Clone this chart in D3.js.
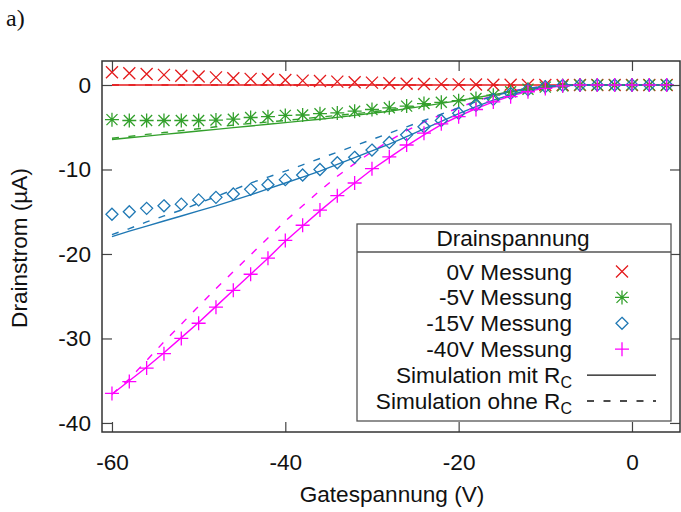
<!DOCTYPE html>
<html><head><meta charset="utf-8">
<script src="https://cdn.jsdelivr.net/npm/d3@7"></script>
<style>
body{margin:0;background:#fff}
svg{display:block}
text{font-family:"Liberation Sans",Arial,Helvetica,sans-serif;fill:#111}
</style>
</head><body><svg id="c" width="681" height="512"></svg>
<script>
// ---- data ----
const gate = [-60,-58,-56,-54,-52,-50,-48,-46,-44,-42,-40,-38,-36,-34,-32,-30,-28,-26,-24,-22,-20,-18,-16,-14,-12,-10,-8,-6,-4,-2,0,2,4];

const meas0V   = [1.5,1.4,1.3,1.2,1.1,1.0,0.9,0.8,0.72,0.67,0.6,0.52,0.47,0.4,0.32,0.28,0.2,0.15,0.12,0.1,0.07,0.05,0.03,0.02,0,0,0,0,0,0,0,0,0];
const meas5V   = [-4.1,-4.2,-4.2,-4.2,-4.2,-4.2,-4.15,-4.05,-3.85,-3.75,-3.6,-3.55,-3.4,-3.3,-3.1,-2.9,-2.7,-2.5,-2.2,-2.05,-1.85,-1.6,-1.2,-0.8,-0.5,-0.25,-0.1,0,0,0,0,0,0];
const meas15V  = [-15.3,-15.0,-14.6,-14.3,-14.1,-13.6,-13.3,-12.9,-12.35,-11.8,-11.2,-10.65,-10.0,-9.2,-8.56,-7.7,-6.8,-5.9,-4.95,-4.2,-3.35,-2.4,-1.7,-1.0,-0.55,-0.2,-0.05,0,0,0,0,0,0];
const meas40V  = [-36.5,-35.1,-33.5,-31.8,-30.0,-28.2,-26.3,-24.3,-22.4,-20.5,-18.4,-16.6,-14.8,-13.1,-11.6,-9.9,-8.5,-7.1,-5.7,-4.6,-3.75,-2.9,-2.0,-1.38,-0.8,-0.4,-0.1,0,0,0,0,0,0];

const simMit0V   = [0,0,0,0,0,0,0,0,0,0,0,0,0,0,0,0,0,0,0,0,0,0,0,0,0,0,0,0,0,0,0,0,0];
const simOhne0V  = [0,0,0,0,0,0,0,0,0,0,0,0,0,0,0,0,0,0,0,0,0,0,0,0,0,0,0,0,0,0,0,0,0];
const simMit5V   = [-6.45,-6.25,-6.05,-5.85,-5.65,-5.45,-5.25,-5.05,-4.85,-4.65,-4.45,-4.25,-4.05,-3.83,-3.6,-3.35,-3.1,-2.8,-2.5,-2.18,-1.85,-1.5,-1.15,-0.8,-0.5,-0.25,-0.08,0,0,0,0,0,0];
const simOhne5V  = [-6.3,-6.08,-5.85,-5.63,-5.4,-5.18,-4.95,-4.75,-4.55,-4.38,-4.2,-4.0,-3.8,-3.6,-3.4,-3.18,-2.95,-2.68,-2.4,-2.1,-1.8,-1.45,-1.1,-0.77,-0.45,-0.22,-0.06,0,0,0,0,0,0];
const simMit15V  = [-17.95,-17.3,-16.7,-16.1,-15.5,-14.9,-14.3,-13.65,-13.0,-12.3,-11.6,-10.9,-10.2,-9.4,-8.6,-7.8,-7.0,-6.1,-5.2,-4.3,-3.4,-2.55,-1.8,-1.15,-0.6,-0.25,-0.05,0,0,0,0,0,0];
const simOhne15V = [-17.7,-17.0,-16.2,-15.5,-14.8,-14.0,-13.2,-12.4,-11.6,-10.9,-10.2,-9.45,-8.7,-7.95,-7.2,-6.45,-5.7,-4.95,-4.2,-3.45,-2.7,-2.0,-1.3,-0.8,-0.4,-0.15,-0.03,0,0,0,0,0,0];
const simMit40V  = [-36.6,-35.0,-33.4,-31.7,-29.9,-28.1,-26.2,-24.3,-22.4,-20.5,-18.5,-16.7,-14.9,-13.2,-11.6,-10.0,-8.6,-7.2,-5.9,-4.7,-3.7,-2.8,-2.0,-1.3,-0.75,-0.35,-0.1,0,0,0,0,0,0];
const simOhne40V = [-36.6,-34.8,-32.6,-30.4,-28.3,-26.2,-24.1,-22.1,-20.1,-18.1,-16.1,-14.3,-12.5,-10.8,-9.3,-7.9,-6.6,-5.4,-4.4,-3.5,-2.7,-1.9,-1.25,-0.75,-0.38,-0.14,-0.03,0,0,0,0,0,0];

const seriesNames = ["0V Messung","-5V Messung","-15V Messung","-40V Messung"];
const seriesColors = ["#e41a1c","#33a02c","#1f78b4","#ff00ff"];
const seriesMarkers = ["cross","star","diamond","plus"];
const xTicks = [-60,-40,-20,0];
const yTicks = [0,-10,-20,-30,-40];
const legendTitle = "Drainspannung";
const xLabel = "Gatespannung (V)";
const yLabel = "Drainstrom (µA)";
const panelLabel = "a)";

// ---- layout ----
const FS = 22.6;
const svg = d3.select("#c");
const L = 102, R = 680, T = 61, B = 432;
const x = d3.scaleLinear().domain([-61.15, 5.54]).range([L, R]);
const y = d3.scaleLinear().domain([-41.07, 2.84]).range([B, T]);

const meas = [meas0V, meas5V, meas15V, meas40V];
const simMit = [simMit0V, simMit5V, simMit15V, simMit40V];
const simOhne = [simOhne0V, simOhne5V, simOhne15V, simOhne40V];

const markerPath = {
  cross: "M-6,-6L6,6M-6,6L6,-6",
  star: "M-5.5,-5.5L5.5,5.5M-5.5,5.5L5.5,-5.5M-7,0L7,0M0,-7L0,7",
  diamond: "M0,-6L6,0L0,6L-6,0Z",
  plus: "M-7,0L7,0M0,-7L0,7"
};

const line = d3.line().x(d => x(d[0])).y(d => y(d[1]));
const plot = svg.append("g");

// simulation lines (magenta first so blue ends on top near zero)
const lineOrder = [3, 0, 1, 2];
lineOrder.forEach(i => {
  const c = seriesColors[i];
  plot.append("path").datum(gate.map((g, k) => [g, simOhne[i][k]]))
    .attr("d", line).attr("fill", "none").attr("stroke", c)
    .attr("stroke-width", 1.4).attr("stroke-dasharray", "7,9.5");
  plot.append("path").datum(gate.map((g, k) => [g, simMit[i][k]]))
    .attr("d", line).attr("fill", "none").attr("stroke", c)
    .attr("stroke-width", 1.4);
});

// measurement markers
[0, 1, 2, 3].forEach(i => {
  plot.append("g").selectAll("path").data(gate.map((g, k) => [g, meas[i][k]]))
    .join("path")
    .attr("d", markerPath[seriesMarkers[i]])
    .attr("transform", d => `translate(${x(d[0])},${y(d[1])})`)
    .attr("fill", "none").attr("stroke", seriesColors[i]).attr("stroke-width", 1.3);
});

// ---- axes (ticks inward, mirrored) ----
const fmt = d => String(d);
const axB = svg.append("g").attr("transform", `translate(0,${B})`)
  .call(d3.axisBottom(x).tickValues(xTicks).tickSize(-10).tickFormat(fmt));
const axT = svg.append("g").attr("transform", `translate(0,${T})`)
  .call(d3.axisTop(x).tickValues(xTicks).tickSize(-10).tickFormat(""));
const axL = svg.append("g").attr("transform", `translate(${L},0)`)
  .call(d3.axisLeft(y).tickValues(yTicks).tickSize(-10).tickFormat(fmt));
const axR = svg.append("g").attr("transform", `translate(${R},0)`)
  .call(d3.axisRight(y).tickValues(yTicks).tickSize(-10).tickFormat(""));
[axB, axT, axL, axR].forEach(a => {
  a.select(".domain").remove();
  a.selectAll("line").attr("stroke", "#444").attr("stroke-width", 1.2);
  a.attr("font-family", null).attr("font-size", null);
});
axB.selectAll("text").attr("y", 38).attr("dy", null).attr("font-size", FS).style("fill", "#111");
axL.selectAll("text").attr("x", -11).attr("dy", "0.33em").attr("font-size", FS).style("fill", "#111");

// frame
svg.append("rect").attr("x", L).attr("y", T).attr("width", R - L).attr("height", B - T)
  .attr("fill", "none").attr("stroke", "#333").attr("stroke-width", 1.5);

// axis titles
svg.append("text").attr("x", 392).attr("y", 502).attr("text-anchor", "middle")
  .attr("font-size", FS).text(xLabel);
svg.append("text").attr("transform", "translate(27,248) rotate(-90)").attr("text-anchor", "middle")
  .attr("font-size", FS).text(yLabel);
svg.append("text").attr("x", 6).attr("y", 26).attr("font-size", 24)
  .style("font-family", "'Liberation Serif','Times New Roman',serif").text(panelLabel);

// ---- legend ----
const lg = svg.append("g");
const lx0 = 357, ly0 = 224, lx1 = 671, ly1 = 421;
lg.append("rect").attr("x", lx0).attr("y", ly0).attr("width", lx1 - lx0).attr("height", ly1 - ly0)
  .attr("fill", "#fff").attr("stroke", "#555").attr("stroke-width", 1.3);
lg.append("line").attr("x1", lx0).attr("x2", lx1).attr("y1", 252).attr("y2", 252)
  .attr("stroke", "#555").attr("stroke-width", 1.3);
lg.append("text").attr("x", 513).attr("y", 246).attr("text-anchor", "middle")
  .attr("font-size", FS).text(legendTitle);
const textX = 572, symX = 622, rowBase = 279.5, rowStep = 25.9;
seriesNames.forEach((n, i) => {
  const b = rowBase + i * rowStep;
  lg.append("text").attr("x", textX).attr("y", b).attr("text-anchor", "end").attr("font-size", FS).text(n);
  lg.append("path").attr("d", markerPath[seriesMarkers[i]])
    .attr("transform", `translate(${symX},${b - 8})`)
    .attr("fill", "none").attr("stroke", seriesColors[i]).attr("stroke-width", 1.3);
});
["Simulation mit R", "Simulation ohne R"].forEach((n, j) => {
  const b = rowBase + (4 + j) * rowStep;
  const t = lg.append("text").attr("x", textX).attr("y", b).attr("text-anchor", "end").attr("font-size", FS);
  t.append("tspan").text(n);
  t.append("tspan").attr("font-size", 16).attr("dy", 5).text("C");
  const ln = lg.append("line").attr("x1", 587).attr("x2", 656).attr("y1", b - 8).attr("y2", b - 8)
    .attr("stroke", "#111").attr("stroke-width", 1.3);
  if (j === 1) ln.attr("stroke-dasharray", "7,9.5");
});
</script>
</body></html>
